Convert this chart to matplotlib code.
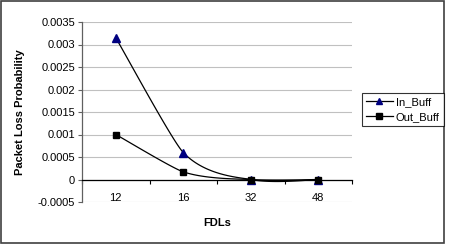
import matplotlib
matplotlib.use('Agg')
import matplotlib.pyplot as plt
import numpy as np
from matplotlib.patches import Rectangle

plt.rcParams['font.family'] = ['Liberation Sans', 'DejaVu Sans']

categories = ['12', '16', '32', '48']
in_buff = [0.00315, 0.0006, 0.0, 0.0]
out_buff = [0.001, 0.00017, 0.0, 0.0]
y_ticks = [-0.0005, 0, 0.0005, 0.001, 0.0015, 0.002, 0.0025, 0.003, 0.0035]


def smooth(xs, ys, f_out=1 / 6, f_in=0.08, n=40):
    # Excel-like smoothed line: cubic Bezier through the points
    p = np.column_stack([xs, ys]).astype(float)
    pts = [p[0]]
    for i in range(len(p) - 1):
        p0 = p[i - 1] if i > 0 else p[i]
        p3 = p[i + 2] if i + 2 < len(p) else p[i + 1]
        c1 = p[i] + (p[i + 1] - p0) * f_out
        c2 = p[i + 1] - (p3 - p[i]) * f_in
        t = np.linspace(0, 1, n)[1:, None]
        seg = ((1 - t) ** 3 * p[i] + 3 * (1 - t) ** 2 * t * c1
               + 3 * (1 - t) * t ** 2 * c2 + t ** 3 * p[i + 1])
        pts.extend(seg)
    pts = np.array(pts)
    return pts[:, 0], pts[:, 1]


fig = plt.figure(figsize=(4.5, 2.46), dpi=100)
ax = fig.add_axes([82 / 450, 1 - 202 / 246, 270 / 450, 180 / 246])

x = np.arange(len(categories))

sx, sy = smooth(x, in_buff)
ax.plot(sx, sy, color='black', linewidth=0.9, zorder=3)
ax.plot(x, in_buff, linestyle='none', marker='^', markersize=5.5,
        markerfacecolor='#000080', markeredgecolor='#000080', zorder=4)

sx, sy = smooth(x, out_buff)
ax.plot(sx, sy, color='black', linewidth=0.9, zorder=3)
ax.plot(x, out_buff, linestyle='none', marker='s', markersize=4.5,
        markerfacecolor='black', markeredgecolor='black', zorder=4)

ax.set_xlim(-0.5, len(categories) - 0.5)
ax.set_ylim(-0.0005, 0.0035)
ax.set_yticks(y_ticks)
ax.set_yticklabels([f'{round(v, 4):g}' for v in y_ticks])
ax.yaxis.grid(True, color='#c0c0c0', linewidth=0.8)
ax.set_axisbelow(True)

ax.set_xticks(x)
ax.set_xticklabels(categories)
ax.set_xticks(np.arange(-0.5, len(categories), 1.0), minor=True)
ax.tick_params(axis='x', which='major', length=0, pad=10, labelsize=8)
ax.tick_params(axis='x', which='minor', length=3, direction='out',
               color='black', width=0.8)
ax.tick_params(axis='y', length=3, direction='out', color='#606060',
               width=0.8, labelsize=8, pad=2)

for s in ['top', 'right']:
    ax.spines[s].set_visible(False)
ax.spines['bottom'].set_position(('data', 0))
ax.spines['bottom'].set_color('black')
ax.spines['bottom'].set_linewidth(0.9)
ax.spines['left'].set_color('#606060')
ax.spines['left'].set_linewidth(0.9)

fig.text(20 / 450, 1 - 112 / 246, 'Packet Loss Probability', rotation=90,
         ha='center', va='center', fontsize=8, fontweight='bold')
fig.text(217 / 450, 1 - 223 / 246, 'FDLs', ha='center', va='center',
         fontsize=8, fontweight='bold')

handles = [
    plt.Line2D([], [], color='black', linewidth=0.9, marker='^', markersize=5,
               markerfacecolor='#000080', markeredgecolor='#000080'),
    plt.Line2D([], [], color='black', linewidth=0.9, marker='s', markersize=4,
               markerfacecolor='black', markeredgecolor='black'),
]
leg = fig.legend(handles, ['In_Buff', 'Out_Buff'], loc='upper left',
                 bbox_to_anchor=(362 / 450, 1 - 93 / 246), fontsize=8,
                 frameon=True, fancybox=False, edgecolor='black',
                 handlelength=2.4, handletextpad=0.3, borderpad=0.35,
                 labelspacing=0.45, borderaxespad=0)
leg.get_frame().set_linewidth(0.8)

fig.patches.append(Rectangle((1 / 450, 3 / 246), 443 / 450, 242 / 246,
                             transform=fig.transFigure, fill=False,
                             edgecolor='#404040', linewidth=1.2))

fig.savefig('out.png', dpi=100)
